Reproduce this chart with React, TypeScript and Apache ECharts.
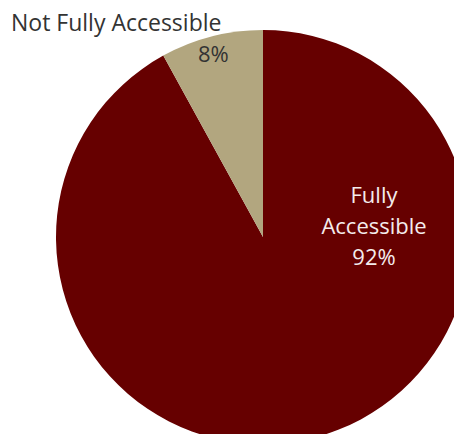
import React, { useEffect, useRef } from "react";
import * as echarts from "echarts";

const categories = ["Fully Accessible", "Not Fully Accessible"];
const values = [92, 8];
const colors = ["#660000", "#B2A67F"];

export default function App() {
  const ref = useRef<HTMLDivElement>(null);
  useEffect(() => {
    if (!ref.current) return;
    const chart = echarts.init(ref.current, null, { renderer: "svg" });
    const font = "'Open Sans', sans-serif";
    chart.setOption({
      animation: false,
      backgroundColor: "#ffffff",
      series: [
        {
          type: "pie",
          center: [263, 237],
          radius: 207,
          startAngle: 90,
          clockwise: true,
          silent: true,
          label: {
            show: true,
            position: "inside",
            fontFamily: font,
            fontSize: 22,
            formatter: (p: any) => {
              if (p.dataIndex === 0) {
                return "{w|Fully}\n{w|Accessible}\n{w|" + p.value + "%}";
              }
              return "{a|" + p.name + "}\n{b|" + p.value + "%}";
            },
            rich: {
              w: { color: "#F4ECEC", fontFamily: font, fontSize: 22, lineHeight: 31, align: "center" },
              a: { color: "#333333", fontFamily: font, fontSize: 23, lineHeight: 31, align: "left" },
              b: { color: "#333333", fontFamily: font, fontSize: 22, lineHeight: 31, align: "left", padding: [0, 0, 0, 187] },
            },
          },
          labelLine: { show: false },
          labelLayout: (p: any) => {
            if (p.dataIndex === 0) {
              return { x: 374, y: 225, align: "center", verticalAlign: "middle" };
            }
            return { x: 11, y: 6, align: "left", verticalAlign: "top" };
          },
          data: categories.map((c, i) => ({
            name: c,
            value: values[i],
            itemStyle: { color: colors[i] },
          })),
        },
      ],
    });
    return () => chart.dispose();
  }, []);
  return (
    <div
      ref={ref}
      style={{ position: "fixed", left: 0, top: 0, width: 454, height: 434 }}
    />
  );
}
